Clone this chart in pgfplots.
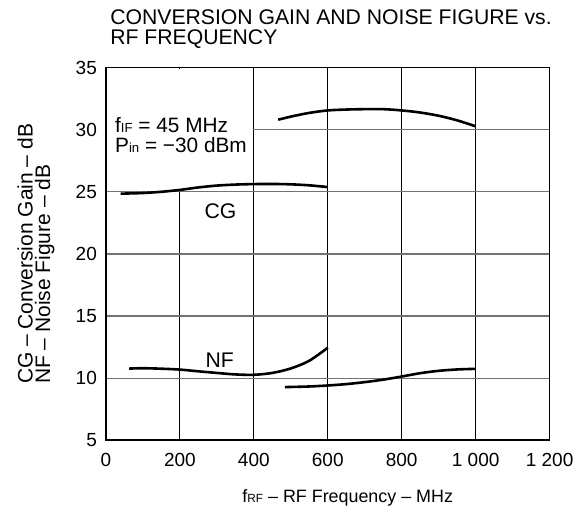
\documentclass[border=0pt]{standalone}
\usepackage{fontspec}
\setmainfont{Liberation Sans}
\usepackage{pgfplots}
\pgfplotsset{compat=1.18}
\begin{document}
\begin{tikzpicture}
\begin{axis}[
  scale only axis,
  width=222pt, height=186.5pt,
  xmin=0, xmax=1200, ymin=5, ymax=35,
  xtick={0,200,...,1200},
  xticklabels={0,200,400,600,800,{1 000},{1 200}},
  ytick={5,10,...,35},
  major tick length=0pt,
  /pgf/number format/assume math mode=true,
  tick label style={font=\fontsize{9.5}{9.5}\selectfont},
  xticklabel style={yshift=-3pt},
  yticklabel style={xshift=-1pt},
  axis line style={line width=0.8pt},
  xmajorgrids, ymajorgrids,
  x grid style={black, line width=0.5pt},
  y grid style={black!55, line width=0.6pt},
  clip=false,
  every axis y label/.style={at={(axis description cs:-0.1577,0.5)},rotate=90,anchor=center,align=left,font=\fontsize{10.5}{8.7}\selectfont},
  ylabel={CG – Conversion Gain – dB\\NF – Noise Figure – dB},
  every axis x label/.style={at={(axis description cs:0.545,-0.168)},anchor=base,font=\fontsize{8.95}{8.95}\selectfont},
  xlabel={f{\fontsize{5.9}{5.9}\selectfont RF} – RF Frequency – MHz},
]
% white box hiding grid behind annotation
\fill[white] ([xshift=0.6pt,yshift=0.4pt]axis cs:0,25) rectangle ([xshift=-0.3pt,yshift=-0.6pt]axis cs:400,35);

% CG low band
\addplot[black, line width=1.3pt, smooth] coordinates {
 (40,24.85) (100,24.9) (150,25.0) (200,25.15) (250,25.35) (300,25.5)
 (350,25.58) (400,25.62) (450,25.63) (500,25.6) (550,25.52) (600,25.38)};
% CG high band
\addplot[black, line width=1.3pt, smooth] coordinates {
 (466,30.8) (500,31.05) (550,31.35) (600,31.55) (650,31.62) (700,31.65)
 (750,31.65) (800,31.55) (850,31.38) (900,31.12) (950,30.75) (1000,30.27)};
% NF low band
\addplot[black, line width=1.3pt, smooth] coordinates {
 (63,10.77) (100,10.8) (150,10.76) (200,10.69) (250,10.55) (300,10.42)
 (350,10.3) (400,10.27) (450,10.42) (500,10.78) (550,11.4) (600,12.45)};
% NF high band
\addplot[black, line width=1.3pt, smooth] coordinates {
 (484,9.28) (550,9.33) (600,9.41) (650,9.52) (700,9.68) (750,9.88)
 (800,10.13) (850,10.4) (900,10.59) (950,10.7) (1000,10.75)};

\node[anchor=base, font=\fontsize{10.6}{10.6}\selectfont, inner sep=0] at (axis cs:310,22.86) {CG};
\node[anchor=base, font=\fontsize{10.6}{10.6}\selectfont, inner sep=0] at (axis cs:308,10.85) {NF};
\node[anchor=base west, font=\fontsize{10.4}{10.4}\selectfont, inner sep=0] at (axis cs:24,29.81) {f{\fontsize{6.6}{6.6}\selectfont IF} = 45 MHz};
\node[anchor=base west, font=\fontsize{10.4}{10.4}\selectfont, inner sep=0] at (axis cs:24,28.2) {P{\fontsize{6.6}{6.6}\selectfont in} = −30 dBm};

\node[anchor=base west, font=\fontsize{10.6}{10.6}\selectfont, inner sep=0] at (axis description cs:0.009,1.115) {CONVERSION GAIN AND NOISE FIGURE vs.};
\node[anchor=base west, font=\fontsize{10.6}{10.6}\selectfont, inner sep=0] at (axis description cs:0.009,1.062) {RF FREQUENCY};
\end{axis}
\path ([shift={(-53pt,-34.7pt)}]current axis.south west) rectangle ([shift={(237pt,220.3pt)}]current axis.south west);
\end{tikzpicture}
\end{document}
